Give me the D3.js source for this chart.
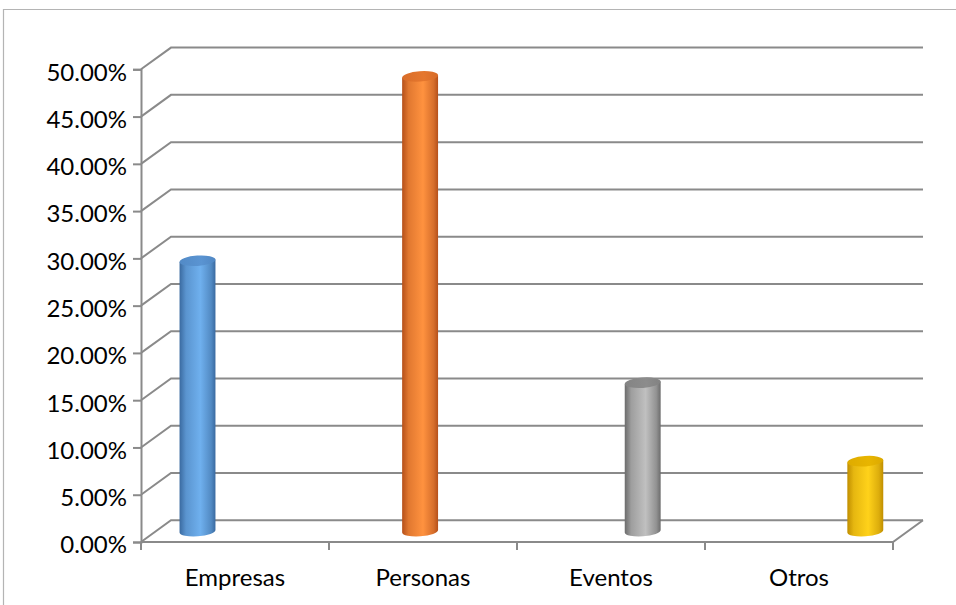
<!DOCTYPE html>
<html>
<head>
<meta charset="utf-8">
<script src="https://cdn.jsdelivr.net/npm/d3@7"></script>
<style>
  html, body { margin: 0; padding: 0; background: #fff; }
  svg { display: block; }
  text { font-family: Lato, "Open Sans", sans-serif; fill: #000; }
</style>
</head>
<body>
<svg id="chart" width="956" height="605"></svg>
<script>
// Share of contacts by type
const categories = ["Empresas", "Personas", "Eventos", "Otros"];
const values = [0.286, 0.481, 0.157, 0.074];
const yTicks = [0, 0.05, 0.10, 0.15, 0.20, 0.25, 0.30, 0.35, 0.40, 0.45, 0.50];

// cylinder palettes: [edge, highlight, top]
const palettes = [
  ["#3a6aa0", "#6fb0ee", "#5a94d2"],
  ["#b5501a", "#ff923f", "#e5772e"],
  ["#6c6c6c", "#c0c0c0", "#8c8c8c"],
  ["#c08e00", "#ffd21a", "#e8b500"]
];

const svg = d3.select("#chart");

// outer frame of the chart area
svg.append("path")
  .attr("d", "M3.5,605 L3.5,9.5 L956,9.5")
  .attr("fill", "none").attr("stroke", "#b4b4b4").attr("stroke-width", 1.2);

const plotLeft = 141, plotRight = 893, plotBase = 542, plotTop = 69.3;
const depth = { dx: 30, dy: -21.7 };

const y = d3.scaleLinear().domain([0, 0.5]).range([plotBase, plotTop]);
const x = d3.scaleBand().domain(categories).range([plotLeft, plotRight]);
// cylinders stand halfway back in the floor, seen in perspective
const xc = d3.scalePoint().domain(categories).range([197.5, 865.3]);

const gridColor = "#8a8a8a";
const grid = svg.append("g").attr("fill", "none").attr("stroke", gridColor).attr("stroke-width", 2);

// back-wall gridlines with their left-wall diagonals
grid.selectAll("path.gl").data(yTicks).join("path")
  .attr("class", "gl")
  .attr("d", d => {
    const yy = y(d);
    return `M${plotLeft},${yy} L${plotLeft + depth.dx},${yy + depth.dy} L${plotRight + depth.dx},${yy + depth.dy}`;
  });

// floor front edge and right diagonal
grid.append("path")
  .attr("d", `M${plotLeft},${plotBase} L${plotRight},${plotBase} L${plotRight + depth.dx},${plotBase + depth.dy}`);

// vertical axis
const yAxis = d3.axisLeft(y).tickValues(yTicks).tickSize(8).tickPadding(6)
  .tickFormat(d3.format(".2%"));
const gy = svg.append("g").attr("transform", `translate(${plotLeft},0)`).call(yAxis);
gy.select(".domain").attr("stroke", gridColor).attr("stroke-width", 2);
gy.selectAll(".tick line").attr("stroke", gridColor).attr("stroke-width", 2);
gy.selectAll(".tick text").attr("font-size", 24).attr("font-family", "Lato, sans-serif")
  .attr("fill", "#000").attr("dy", "0.45em");

// category axis
const xAxis = d3.axisBottom(x).tickSize(0).tickPadding(27);
const gx = svg.append("g").attr("transform", `translate(0,${plotBase})`).call(xAxis);
gx.select(".domain").remove();
gx.selectAll(".tick text").attr("font-size", 24).attr("font-family", "Lato, sans-serif")
  .attr("fill", "#000");
// tick marks on the category boundaries
gx.selectAll("line.sep").data(d3.range(categories.length + 1)).join("line")
  .attr("class", "sep")
  .attr("x1", i => plotLeft + i * x.step()).attr("x2", i => plotLeft + i * x.step())
  .attr("y1", 0).attr("y2", 8)
  .attr("stroke", gridColor).attr("stroke-width", 2);

// gradients for the cylinders
const defs = svg.append("defs");
palettes.forEach((p, i) => {
  const g = defs.append("linearGradient").attr("id", "side" + i)
    .attr("x1", "0%").attr("x2", "100%").attr("y1", "0%").attr("y2", "0%");
  g.append("stop").attr("offset", "0%").attr("stop-color", p[0]);
  g.append("stop").attr("offset", "18%").attr("stop-color", d3.interpolateRgb(p[0], p[1])(0.6));
  g.append("stop").attr("offset", "58%").attr("stop-color", p[1]);
  g.append("stop").attr("offset", "88%").attr("stop-color", d3.interpolateRgb(p[0], p[1])(0.45));
  g.append("stop").attr("offset", "100%").attr("stop-color", p[0]);
  const t = defs.append("linearGradient").attr("id", "cap" + i)
    .attr("x1", "0%").attr("x2", "100%").attr("y1", "0%").attr("y2", "0%");
  t.append("stop").attr("offset", "0%").attr("stop-color", d3.interpolateRgb(p[2], p[0])(0.25));
  t.append("stop").attr("offset", "60%").attr("stop-color", p[2]);
  t.append("stop").attr("offset", "100%").attr("stop-color", d3.interpolateRgb(p[2], p[0])(0.3));
});

// cylinders
const rx = 18, ry = 5.2, tilt = -4;
const floorShift = depth.dy / 2;
const bars = svg.append("g").selectAll("g.bar").data(categories).join("g").attr("class", "bar");

bars.each(function (c, i) {
  const g = d3.select(this);
  const cx = xc(c);
  const yb = y(0) + floorShift;
  const yt = y(values[i]) + floorShift;
  const t = tilt * Math.PI / 180;
  // tilted ellipse edge points
  const lx = cx - rx * Math.cos(t), ly = -rx * Math.sin(t);
  const rxp = cx + rx * Math.cos(t), ryp = rx * Math.sin(t);
  g.append("path")
    .attr("d", `M${lx},${yt + ly} L${lx},${yb + ly}` +
      ` A${rx},${ry} ${tilt} 0 0 ${rxp},${yb + ryp}` +
      ` L${rxp},${yt + ryp} Z`)
    .attr("fill", `url(#side${i})`);
  g.append("ellipse")
    .attr("cx", cx).attr("cy", yt).attr("rx", rx).attr("ry", ry)
    .attr("transform", `rotate(${tilt},${cx},${yt})`)
    .attr("fill", `url(#cap${i})`);
});
</script>
</body>
</html>
